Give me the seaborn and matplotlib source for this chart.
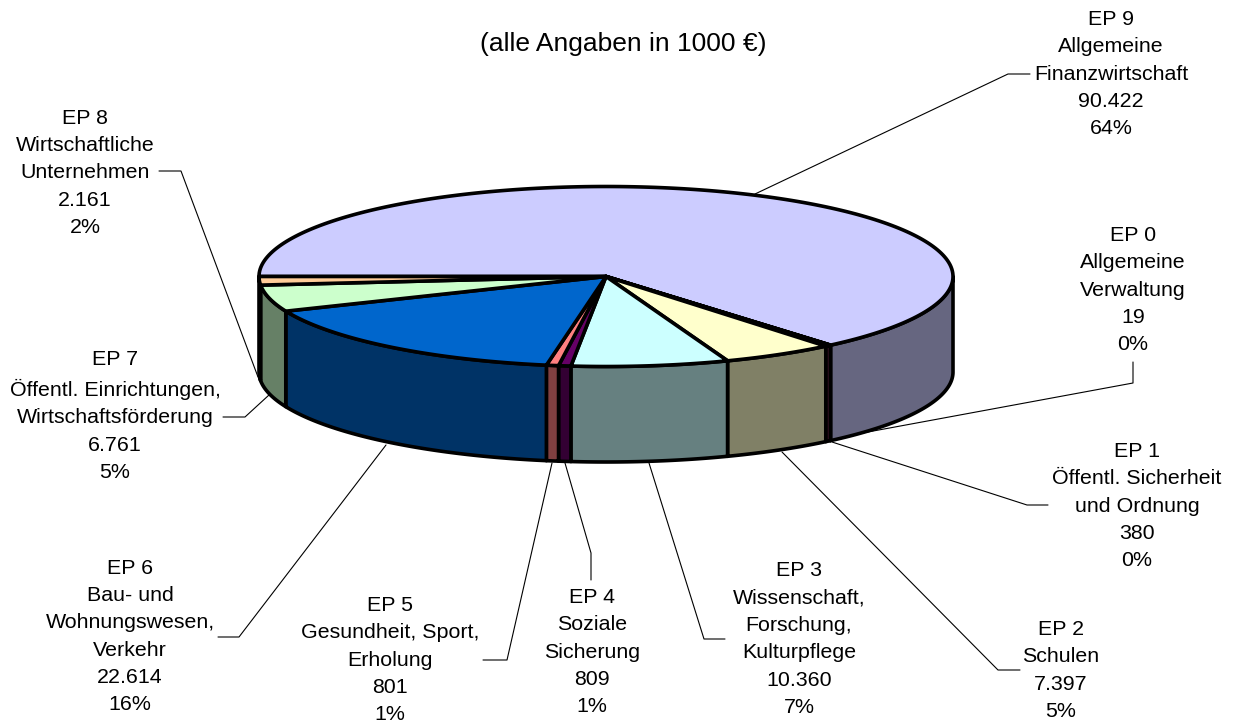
import numpy as np
import matplotlib
matplotlib.use("Agg")
import matplotlib.pyplot as plt
from matplotlib.patches import Polygon
import seaborn as sns

names = [
    "EP 9\nAllgemeine\nFinanzwirtschaft",
    "EP 0\nAllgemeine\nVerwaltung",
    "EP 1\nÖffentl. Sicherheit\nund Ordnung",
    "EP 2\nSchulen",
    "EP 3\nWissenschaft,\nForschung,\nKulturpflege",
    "EP 4\nSoziale\nSicherung",
    "EP 5\nGesundheit, Sport,\nErholung",
    "EP 6\nBau- und\nWohnungswesen,\nVerkehr",
    "EP 7\nÖffentl. Einrichtungen,\nWirtschaftsförderung",
    "EP 8\nWirtschaftliche\nUnternehmen",
]
values = [90422, 19, 380, 7397, 10360, 809, 801, 22614, 6761, 2161]
percents = [64, 0, 0, 5, 7, 1, 1, 16, 5, 2]
top_colors = ["#CCCCFF", "#800080", "#993366", "#FFFFCC", "#CCFFFF",
              "#660066", "#FF8080", "#0066CC", "#CCFFCC", "#FFCC99"]

# label centre in pixels, then leader line points in pixels
label_pos = [(1111, 74), (1133, 290), (1137, 506), (1061, 670.5), (799, 639),
             (592, 652), (390, 660), (130, 636.5), (115, 416), (85, 173)]
leaders = [
    [(755, 194), (1008, 74), (1030, 74)],
    [(830, 439), (1133, 383), (1133, 362)],
    [(832, 442), (1027, 505), (1048, 505)],
    [(782, 452), (998, 670), (1020, 670)],
    [(649, 463), (704, 639), (725, 639)],
    [(565, 463), (591, 553), (591, 580)],
    [(552, 463), (507, 660), (483, 660)],
    [(386, 445), (239, 637), (218, 637)],
    [(269, 395), (245, 417), (223, 417)],
    [(258, 377), (181, 171), (159, 171)],
]

cx, cy, rx, ry, depth = 606, 276.5, 347, 90, 95.5


def ellipse(t, dy=0):
    return np.column_stack([cx + rx * np.cos(t), cy + dy - ry * np.sin(t)])


sns.set_theme(style="white")
plt.rcParams["font.family"] = ["Liberation Sans", "DejaVu Sans"]

fig = plt.figure(figsize=(12.33, 7.22), dpi=100)
ax = fig.add_axes([0, 0, 1, 1])
ax.set_xlim(0, 1233)
ax.set_ylim(722, 0)
ax.axis("off")

# slices go clockwise from 9 o'clock
fractions = np.array(values) / np.sum(values)
edges = np.pi - 2 * np.pi * np.concatenate([[0], np.cumsum(fractions)])
palette = sns.color_palette(top_colors)

# side walls, only the part in the front half
for i, color in enumerate(palette):
    start = min(edges[i], 0)
    end = max(edges[i + 1], -np.pi)
    if start <= end:
        continue
    t = np.linspace(start, end, 80)
    wall = np.vstack([ellipse(t), ellipse(t[::-1], depth)])
    side = tuple(c * 0.5 for c in color)
    ax.add_patch(Polygon(wall, facecolor=side, edgecolor="black", lw=2.6, joinstyle="round"))

# top face
for i, color in enumerate(palette):
    t = np.linspace(edges[i], edges[i + 1], 200)
    top = np.vstack([[cx, cy], ellipse(t)])
    ax.add_patch(Polygon(top, facecolor=color, edgecolor="black", lw=2.6, joinstyle="round"))

for points in leaders:
    xs, ys = zip(*points)
    ax.plot(xs, ys, color="black", lw=0.8, zorder=0.5)

for name, value, pct, (x, y) in zip(names, values, percents, label_pos):
    text = name + "\n" + f"{value:,}".replace(",", ".") + f"\n{pct}%"
    ax.text(x, y, text, ha="center", va="center", fontsize=15.4, linespacing=1.56, color="black")

ax.text(623, 44, "(alle Angaben in 1000 €)", ha="center", va="center", fontsize=19, color="black")

plt.savefig("out.png", dpi=100)
